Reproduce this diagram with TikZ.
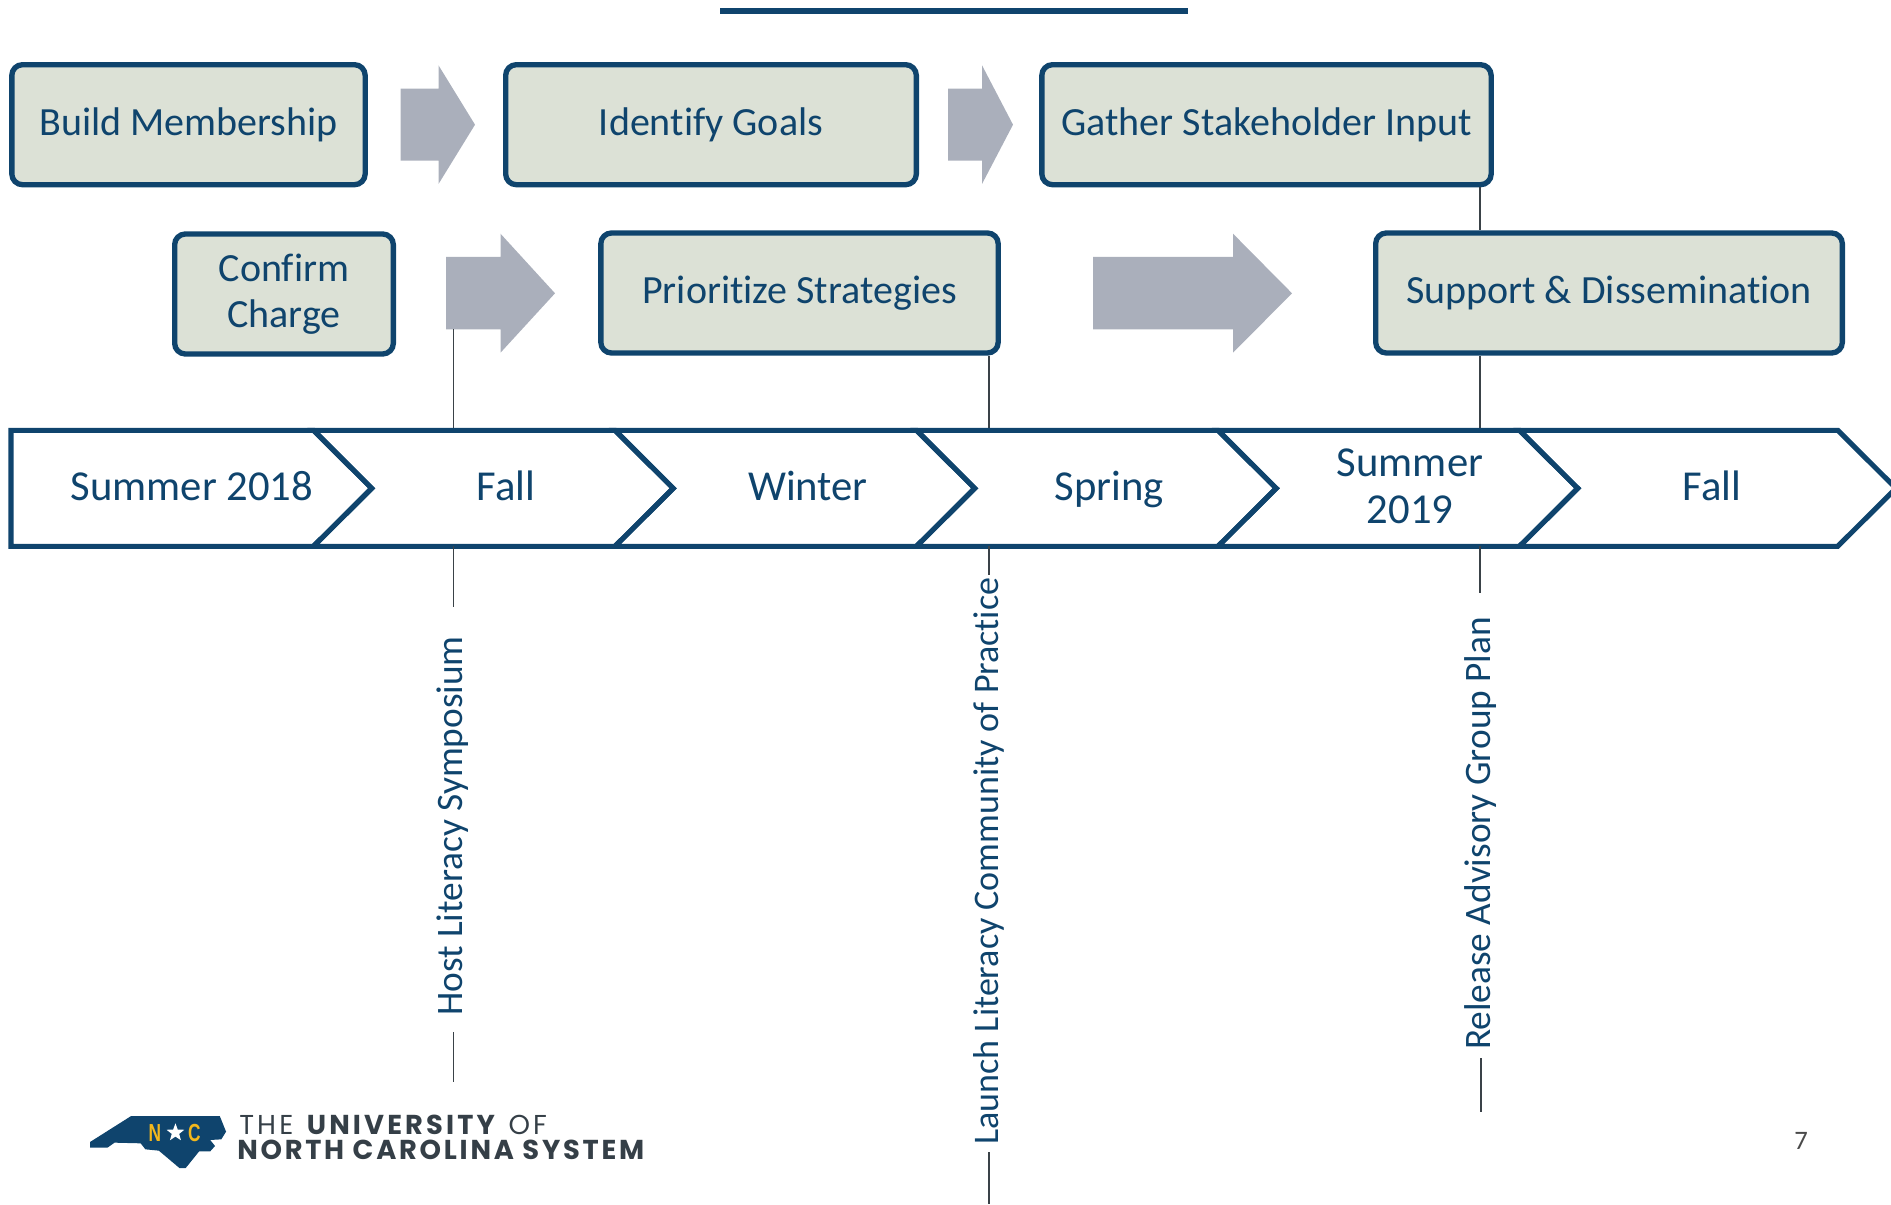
\documentclass[tikz,border=0pt]{standalone}
\usepackage{fontspec}
\setmainfont[Ligatures=NoCommon]{Carlito}
\newfontfamily\logofontA[LetterSpace=11.5]{Poppins}
\newfontfamily\logofontB[LetterSpace=10]{Poppins}
\newfontfamily\ncfont{Liberation Sans}
\usetikzlibrary{shapes.geometric}
\definecolor{navy}{HTML}{0F446D}
\definecolor{boxfill}{HTML}{DCE1D6}
\definecolor{arrowfill}{HTML}{AAAFBB}
\definecolor{logotext}{HTML}{353F47}
\definecolor{leader}{HTML}{3A4248}
\definecolor{ncgold}{HTML}{F2B71C}
\definecolor{pagenum}{HTML}{4A4A4A}
\tikzset{
  px/.style={x=0.75pt,y=-0.75pt},
  stagebox/.style={draw=navy,line width=4pt,fill=boxfill,rounded corners=8pt,text=navy,
    font=\fontsize{30}{34.5}\selectfont,align=center,inner sep=0pt,minimum height=90pt},
  flowarrow/.style={fill=arrowfill,draw=none},
  chevline/.style={draw=navy,line width=3.8pt,line join=miter},
  chevtext/.style={text=navy,font=\fontsize{32}{35.5}\selectfont,align=center,inner sep=0pt},
  chevbase/.style={chevtext,anchor=base},
  milestone/.style={text=navy,font=\fontsize{28}{30}\selectfont,rotate=90,inner sep=0pt,anchor=base},
  leaderline/.style={draw=leader,line width=1.3pt},
}
\begin{document}
\begin{tikzpicture}[px]
\clip (0,0) rectangle (1891,1205);
% title rule
\draw[navy,line width=4.5pt] (720,11) -- (1188,11);

% anchors on the timeline and free ends
\coordinate (fallTop) at (453.5,430.3);
\coordinate (fallBot) at (453.5,546.3);
\coordinate (springTop) at (989,430.3);
\coordinate (springBot) at (989,546.3);
\coordinate (sumTop) at (1480,430.3);
\coordinate (sumBot) at (1480,546.3);
\coordinate (arrowThreeFoot) at (453.5,329.3);

% boxes
\node[stagebox,minimum width=265pt] (build) at (188.5,124.7) {Build Membership};
\node[stagebox,minimum width=308pt] (goals) at (711,124.7) {Identify Goals};
\node[stagebox,minimum width=337pt] (gather) at (1266.5,124.7) {Gather Stakeholder Input};
\node[stagebox,minimum width=164pt] (charge) at (284,294) {Confirm\\Charge};
\path (284,293) coordinate (chargeCentre);
\node[stagebox,minimum width=298pt] (prior) at (799.5,293) {Prioritize Strategies};
\node[stagebox,minimum width=350pt] (support) at (1609,293) {Support \& Dissemination};

% flow arrows
\fill[flowarrow] (400.5,88.7) -- (438.5,88.7) -- (438.5,65.3) -- (475,124.7) -- (438.5,184) -- (438.5,160.7) -- (400.5,160.7) -- cycle;
\fill[flowarrow] (948,88.7) -- (982,88.7) -- (982,65.3) -- (1013,124.7) -- (982,184) -- (982,160.7) -- (948,160.7) -- cycle;
\fill[flowarrow] (446,257) -- (500.5,257) -- (500.5,233.7) -- (555,293.3) -- (500.5,352.7) -- (500.5,329.3) -- (446,329.3) -- cycle;
\fill[flowarrow] (1093,257) -- (1233,257) -- (1233,233.7) -- (1292,293.3) -- (1233,352.7) -- (1233,329.3) -- (1093,329.3) -- cycle;

% connectors above the timeline
\draw[leaderline] (arrowThreeFoot) -- (fallTop);
\draw[leaderline] (prior.south -| springTop) -- (springTop);
\draw[leaderline] (gather.south -| sumTop) -- (support.north -| sumTop);
\draw[leaderline] (support.south -| sumTop) -- (sumTop);

% timeline
\draw[chevline] (11,430.3) -- (313.5,430.3) -- (371.7,488.3) -- (313.5,546.3) -- (11,546.3) -- cycle;
\foreach \s in {313.5,615,916.5,1218}{
  \draw[chevline] (\s,430.3) -- ({\s+301.5},430.3) -- ({\s+359.7},488.3) -- ({\s+301.5},546.3) -- (\s,546.3) -- ({\s+58.2},488.3) -- cycle;
}
\draw[chevline] (1519.5,430.3) -- (1837.7,430.3) -- (1896,488.3) -- (1837.7,546.3) -- (1519.5,546.3) -- (1577.7,488.3) -- cycle;
\node[chevbase] (c1) at (192,500.5) {Summer 2018};
\node[chevbase] (c2) at (506,500.5) {Fall};
\node[chevbase] (c3) at (808,500.5) {Winter};
\node[chevbase] (c4) at (1109,500.5) {Spring};
\node[chevtext] (c5) at (1410,486.5) {Summer\\2019};
\node[chevbase] (c6) at (1712,500.5) {Fall};

% milestones
\node[milestone] (host) at (462,826) {Host Literacy Symposium};
\node[milestone,font=\fontsize{27}{30}\selectfont] (launch) at (998,861) {Launch Literacy Community of Practice};
\node[milestone] (release) at (1490.5,833.5) {Release Advisory Group Plan};
\coordinate (hostStart) at (453.5,607);
\coordinate (hostLow) at (453.5,1032);
\coordinate (hostEnd) at (453.5,1082);
\coordinate (launchStart) at (989,575);
\coordinate (launchLow) at (989,1152);
\coordinate (launchEnd) at (989,1204);
\coordinate (releaseStart) at (1480,593);
\coordinate (releaseLow) at (1481,1058);
\coordinate (releaseEnd) at (1481,1112);

% connectors below the timeline
\draw[leaderline] (fallBot) -- (hostStart);
\draw[leaderline] (hostLow) -- (hostEnd);
\draw[leaderline] (springBot) -- (launchStart);
\draw[leaderline] (launchLow) -- (launchEnd);
\draw[leaderline] (sumBot) -- (releaseStart);
\draw[leaderline] (releaseLow) -- (releaseEnd);

% logo
\begin{scope}[shift={(60,1080)},xscale=0.3954,yscale=0.3333]
\fill[navy] (76,186) -- (180,108) -- (404,108) -- (420,155) -- (408,178) -- (380,180) -- (392,198) -- (380,214) -- (352,214) -- (318,264) -- (302,264) -- (250,212) -- (216,208) -- (204,190) -- (138,188) -- (120,203) -- (76,203) -- cycle;
\node[star,star points=5,star point ratio=2.4,fill=white,minimum size=14pt,inner sep=0pt] (logostar) at (292,158) {};
\node[inner sep=0pt,text=ncgold,xscale=0.7] (logon) at (240,158) {\ncfont\bfseries\fontsize{18.5}{19}\selectfont N};
\node[inner sep=0pt,text=ncgold,xscale=0.7] (logoc) at (340,158) {\ncfont\bfseries\fontsize{18.5}{19}\selectfont C};
\end{scope}
\node[anchor=west,inner sep=0pt,text=logotext] (logo1) at (239,1125) {\logofontA\fontsize{20.5}{21}\selectfont THE \textbf{UNIVERSITY} OF};
\node[anchor=west,inner sep=0pt,text=logotext] (logo2) at (237,1150) {\logofontB\fontsize{20.5}{21}\selectfont\textbf{NORTH CAROLINA SYSTEM}};

% page number
\node[inner sep=0pt,text=pagenum,font=\fontsize{20}{24}\selectfont] (pageno) at (1801,1141) {7};
\end{tikzpicture}
\end{document}
